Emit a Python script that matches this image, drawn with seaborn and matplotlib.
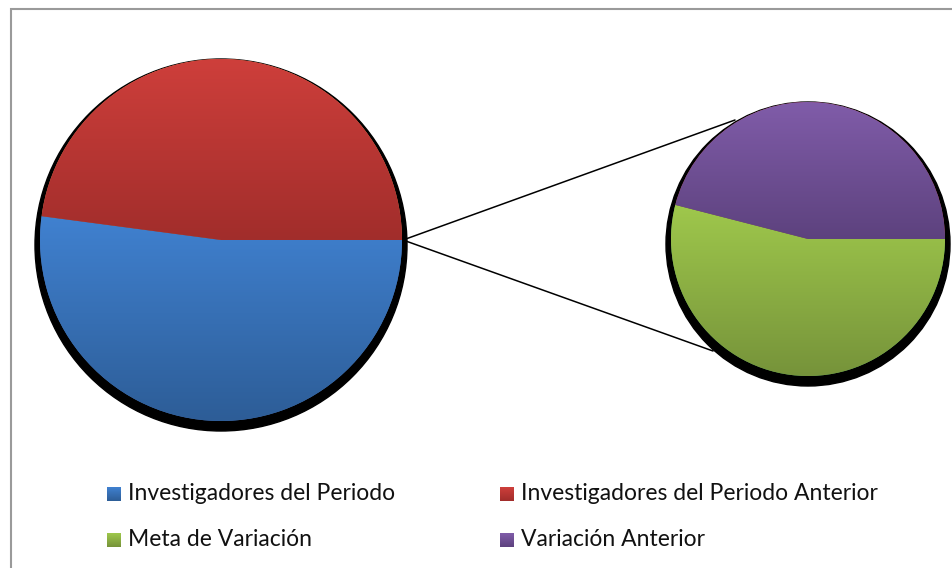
import numpy as np
import matplotlib
matplotlib.use("Agg")
import matplotlib.pyplot as plt
from matplotlib.patches import Circle, Rectangle
from matplotlib.colors import LinearSegmentedColormap
import seaborn as sns

# ── Data ──────────────────────────────────────────────────────────────────────
main_labels = ["Investigadores del Periodo", "Investigadores del Periodo Anterior"]
main_values = [52.1, 47.9]
sub_labels = ["Meta de Variación", "Variación Anterior"]
sub_values = [54.0, 46.0]

# light (top) / dark (bottom) for each slice
main_colors = [("#4081d0", "#2d5d97"), ("#ce3f3b", "#a12d2b")]
sub_colors = [("#9fc84c", "#76933a"), ("#805ca9", "#5d427e")]

sns.set_theme(style="white")
plt.rcParams["font.family"] = ["Lato", "DejaVu Sans"]

W, H = 953, 568
fig = plt.figure(figsize=(W / 100, H / 100), dpi=100)
ax = fig.add_axes([0, 0, 1, 1])
ax.set_xlim(0, W)
ax.set_ylim(0, H)
ax.axis("off")

# chart frame (runs off the right and bottom edges)
ax.add_patch(Rectangle((11, -20), 1000, H - 9 + 20, fill=False,
                       edgecolor="#9a9a9a", linewidth=1.5, zorder=0))


def gradient_pie(values, colors, center, radius):
    cx, cy = center
    # drop shadow
    ax.add_patch(Circle((cx, cy - 5), radius + 5, color="black", zorder=1))
    wedges, _ = ax.pie(values, center=center, radius=radius, startangle=0,
                       counterclock=False, frame=True,
                       wedgeprops=dict(linewidth=0))
    for w, (c_top, c_bot) in zip(wedges, colors):
        w.set_zorder(2)
        ext = w.get_path().get_extents()
        cmap = LinearSegmentedColormap.from_list("g", [c_bot, c_top])
        grad = np.linspace(0, 1, 256).reshape(-1, 1)
        im = ax.imshow(grad, cmap=cmap, origin="lower", aspect="auto",
                       extent=(ext.x0, ext.x1, ext.y0, ext.y1), zorder=3)
        im.set_clip_path(w)
    return wedges


gradient_pie(main_values, main_colors, (221, H - 240), 181)
gradient_pie(sub_values, sub_colors, (808, H - 239), 137)

# connector lines
ax.plot([403, 735], [H - 240, H - 120], color="black", lw=1.1, zorder=4)
ax.plot([403, 713], [H - 240, H - 351], color="black", lw=1.1, zorder=4)

# legend
legend = [
    (main_labels[0], main_colors[0], 107, 494),
    (main_labels[1], main_colors[1], 500, 494),
    (sub_labels[0], sub_colors[0], 107, 540),
    (sub_labels[1], sub_colors[1], 500, 540),
]
for text, (c_top, c_bot), x, y in legend:
    cmap = LinearSegmentedColormap.from_list("g", [c_bot, c_top])
    ax.imshow(np.linspace(0, 1, 64).reshape(-1, 1), cmap=cmap, origin="lower",
              aspect="auto", extent=(x, x + 14, H - y - 7, H - y + 7), zorder=3)
    ax.text(x + 21, H - y, text, fontsize=16.5, va="center", ha="left",
            color="#111111")

ax.set_xlim(0, W)
ax.set_ylim(0, H)
fig.savefig("out.png", dpi=100, facecolor="white")
